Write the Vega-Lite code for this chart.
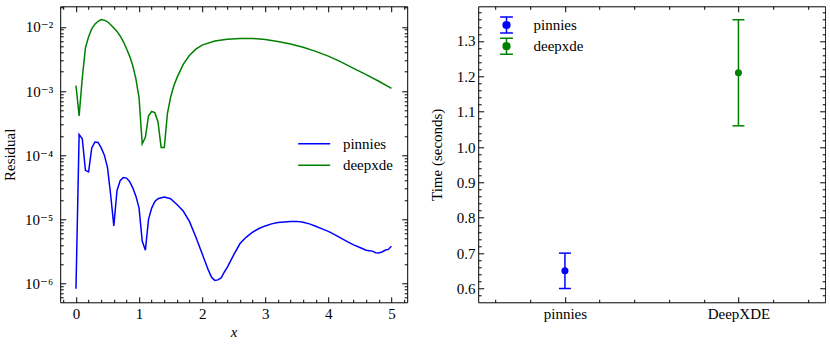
{
  "$schema": "https://vega.github.io/schema/vega-lite/v6.json",
  "background": "white",
  "padding": {"left": 1.2, "top": 5.3, "right": 0, "bottom": 0},
  "bounds": "flush",
  "spacing": 71,
  "resolve": {"scale": {"color": "independent"}, "legend": {"color": "independent"}},
  "config": {
    "view": {"stroke": "black", "strokeWidth": 1},
    "font": "Liberation Serif, Times New Roman, DejaVu Serif, serif",
    "axis": {
      "labelFont": "Liberation Serif, Times New Roman, DejaVu Serif, serif", "labelFontSize": 15, "labelColor": "black",
      "titleFont": "Liberation Serif, Times New Roman, DejaVu Serif, serif", "titleFontSize": 15, "titleFontWeight": "normal", "titleColor": "black",
      "grid": false, "domain": false, "tickColor": "black", "tickWidth": 1, "labelFlush": false, "labelOverlap": false
    },
    "legend": {"labelFont": "Liberation Serif, Times New Roman, DejaVu Serif, serif", "labelFontSize": 15, "labelColor": "black", "padding": 0}
  },
  "hconcat": [
    {
      "width": 347, "height": 296,
      "data": {"values": [
        {"method": "pinnies", "x": 0, "residual": 8.3e-7},
        {"method": "pinnies", "x": 0.05, "residual": 2.1e-4},
        {"method": "pinnies", "x": 0.1, "residual": 1.8e-4},
        {"method": "pinnies", "x": 0.15, "residual": 5.8e-5},
        {"method": "pinnies", "x": 0.2, "residual": 5.5e-5},
        {"method": "pinnies", "x": 0.25, "residual": 1.3e-4},
        {"method": "pinnies", "x": 0.3, "residual": 1.6e-4},
        {"method": "pinnies", "x": 0.35, "residual": 1.58e-4},
        {"method": "pinnies", "x": 0.4, "residual": 1.3e-4},
        {"method": "pinnies", "x": 0.45, "residual": 1.0e-4},
        {"method": "pinnies", "x": 0.5, "residual": 6.4e-5},
        {"method": "pinnies", "x": 0.55, "residual": 2.4e-5},
        {"method": "pinnies", "x": 0.6, "residual": 7.9e-6},
        {"method": "pinnies", "x": 0.65, "residual": 2.8e-5},
        {"method": "pinnies", "x": 0.7, "residual": 4.0e-5},
        {"method": "pinnies", "x": 0.75, "residual": 4.5e-5},
        {"method": "pinnies", "x": 0.8, "residual": 4.4e-5},
        {"method": "pinnies", "x": 0.85, "residual": 3.9e-5},
        {"method": "pinnies", "x": 0.9, "residual": 3.1e-5},
        {"method": "pinnies", "x": 0.95, "residual": 2.3e-5},
        {"method": "pinnies", "x": 1.0, "residual": 1.5e-5},
        {"method": "pinnies", "x": 1.05, "residual": 4.6e-6},
        {"method": "pinnies", "x": 1.1, "residual": 3.3e-6},
        {"method": "pinnies", "x": 1.15, "residual": 1.0e-5},
        {"method": "pinnies", "x": 1.2, "residual": 1.5e-5},
        {"method": "pinnies", "x": 1.25, "residual": 1.9e-5},
        {"method": "pinnies", "x": 1.3, "residual": 2.1e-5},
        {"method": "pinnies", "x": 1.4, "residual": 2.22e-5},
        {"method": "pinnies", "x": 1.5, "residual": 2.1e-5},
        {"method": "pinnies", "x": 1.6, "residual": 1.7e-5},
        {"method": "pinnies", "x": 1.7, "residual": 1.35e-5},
        {"method": "pinnies", "x": 1.8, "residual": 9.2e-6},
        {"method": "pinnies", "x": 1.9, "residual": 5.3e-6},
        {"method": "pinnies", "x": 2.0, "residual": 2.9e-6},
        {"method": "pinnies", "x": 2.1, "residual": 1.6e-6},
        {"method": "pinnies", "x": 2.15, "residual": 1.25e-6},
        {"method": "pinnies", "x": 2.2, "residual": 1.12e-6},
        {"method": "pinnies", "x": 2.25, "residual": 1.14e-6},
        {"method": "pinnies", "x": 2.3, "residual": 1.22e-6},
        {"method": "pinnies", "x": 2.35, "residual": 1.5e-6},
        {"method": "pinnies", "x": 2.4, "residual": 1.8e-6},
        {"method": "pinnies", "x": 2.5, "residual": 2.8e-6},
        {"method": "pinnies", "x": 2.6, "residual": 4.2e-6},
        {"method": "pinnies", "x": 2.7, "residual": 5.3e-6},
        {"method": "pinnies", "x": 2.8, "residual": 6.3e-6},
        {"method": "pinnies", "x": 2.9, "residual": 7.2e-6},
        {"method": "pinnies", "x": 3.0, "residual": 7.9e-6},
        {"method": "pinnies", "x": 3.1, "residual": 8.5e-6},
        {"method": "pinnies", "x": 3.2, "residual": 8.9e-6},
        {"method": "pinnies", "x": 3.3, "residual": 9.1e-6},
        {"method": "pinnies", "x": 3.4, "residual": 9.3e-6},
        {"method": "pinnies", "x": 3.5, "residual": 9.3e-6},
        {"method": "pinnies", "x": 3.6, "residual": 9.0e-6},
        {"method": "pinnies", "x": 3.7, "residual": 8.5e-6},
        {"method": "pinnies", "x": 3.8, "residual": 7.8e-6},
        {"method": "pinnies", "x": 3.9, "residual": 7.1e-6},
        {"method": "pinnies", "x": 4.0, "residual": 6.5e-6},
        {"method": "pinnies", "x": 4.1, "residual": 5.8e-6},
        {"method": "pinnies", "x": 4.2, "residual": 5.1e-6},
        {"method": "pinnies", "x": 4.3, "residual": 4.5e-6},
        {"method": "pinnies", "x": 4.4, "residual": 4.0e-6},
        {"method": "pinnies", "x": 4.5, "residual": 3.65e-6},
        {"method": "pinnies", "x": 4.6, "residual": 3.3e-6},
        {"method": "pinnies", "x": 4.65, "residual": 3.25e-6},
        {"method": "pinnies", "x": 4.7, "residual": 3.2e-6},
        {"method": "pinnies", "x": 4.75, "residual": 3.02e-6},
        {"method": "pinnies", "x": 4.8, "residual": 3.0e-6},
        {"method": "pinnies", "x": 4.85, "residual": 3.1e-6},
        {"method": "pinnies", "x": 4.9, "residual": 3.3e-6},
        {"method": "pinnies", "x": 4.95, "residual": 3.4e-6},
        {"method": "pinnies", "x": 5.0, "residual": 3.8e-6},
        {"method": "deepxde", "x": 0, "residual": 1.22e-3},
        {"method": "deepxde", "x": 0.05, "residual": 4.1e-4},
        {"method": "deepxde", "x": 0.1, "residual": 1.6e-3},
        {"method": "deepxde", "x": 0.15, "residual": 4.7e-3},
        {"method": "deepxde", "x": 0.2, "residual": 7.0e-3},
        {"method": "deepxde", "x": 0.25, "residual": 9.3e-3},
        {"method": "deepxde", "x": 0.3, "residual": 1.1e-2},
        {"method": "deepxde", "x": 0.35, "residual": 1.22e-2},
        {"method": "deepxde", "x": 0.4, "residual": 1.3e-2},
        {"method": "deepxde", "x": 0.45, "residual": 1.27e-2},
        {"method": "deepxde", "x": 0.5, "residual": 1.2e-2},
        {"method": "deepxde", "x": 0.55, "residual": 1.08e-2},
        {"method": "deepxde", "x": 0.6, "residual": 9.6e-3},
        {"method": "deepxde", "x": 0.65, "residual": 8.5e-3},
        {"method": "deepxde", "x": 0.7, "residual": 7.2e-3},
        {"method": "deepxde", "x": 0.75, "residual": 5.9e-3},
        {"method": "deepxde", "x": 0.8, "residual": 4.6e-3},
        {"method": "deepxde", "x": 0.85, "residual": 3.5e-3},
        {"method": "deepxde", "x": 0.9, "residual": 2.5e-3},
        {"method": "deepxde", "x": 0.95, "residual": 1.55e-3},
        {"method": "deepxde", "x": 1.0, "residual": 7.8e-4},
        {"method": "deepxde", "x": 1.05, "residual": 1.5e-4},
        {"method": "deepxde", "x": 1.1, "residual": 1.9e-4},
        {"method": "deepxde", "x": 1.15, "residual": 4.1e-4},
        {"method": "deepxde", "x": 1.2, "residual": 4.8e-4},
        {"method": "deepxde", "x": 1.25, "residual": 4.6e-4},
        {"method": "deepxde", "x": 1.3, "residual": 3.3e-4},
        {"method": "deepxde", "x": 1.35, "residual": 1.32e-4},
        {"method": "deepxde", "x": 1.4, "residual": 1.32e-4},
        {"method": "deepxde", "x": 1.45, "residual": 4.5e-4},
        {"method": "deepxde", "x": 1.5, "residual": 8.0e-4},
        {"method": "deepxde", "x": 1.55, "residual": 1.2e-3},
        {"method": "deepxde", "x": 1.6, "residual": 1.6e-3},
        {"method": "deepxde", "x": 1.7, "residual": 2.6e-3},
        {"method": "deepxde", "x": 1.8, "residual": 3.6e-3},
        {"method": "deepxde", "x": 1.9, "residual": 4.5e-3},
        {"method": "deepxde", "x": 2.0, "residual": 5.2e-3},
        {"method": "deepxde", "x": 2.2, "residual": 6.0e-3},
        {"method": "deepxde", "x": 2.4, "residual": 6.4e-3},
        {"method": "deepxde", "x": 2.6, "residual": 6.6e-3},
        {"method": "deepxde", "x": 2.8, "residual": 6.6e-3},
        {"method": "deepxde", "x": 3.0, "residual": 6.35e-3},
        {"method": "deepxde", "x": 3.2, "residual": 5.9e-3},
        {"method": "deepxde", "x": 3.4, "residual": 5.4e-3},
        {"method": "deepxde", "x": 3.6, "residual": 4.8e-3},
        {"method": "deepxde", "x": 3.8, "residual": 4.15e-3},
        {"method": "deepxde", "x": 4.0, "residual": 3.5e-3},
        {"method": "deepxde", "x": 4.2, "residual": 2.85e-3},
        {"method": "deepxde", "x": 4.4, "residual": 2.25e-3},
        {"method": "deepxde", "x": 4.6, "residual": 1.8e-3},
        {"method": "deepxde", "x": 4.8, "residual": 1.42e-3},
        {"method": "deepxde", "x": 5.0, "residual": 1.1e-3}
      ]},
      "layer": [
        {
          "mark": {"type": "line", "strokeWidth": 1.5, "clip": true},
          "encoding": {
            "x": {"field": "x", "type": "quantitative",
              "scale": {"domain": [-0.25, 5.25], "nice": false, "zero": false},
              "axis": {"orient": "bottom", "title": "x", "titleFontStyle": "italic", "titlePadding": 0,
                "values": [-0.2, 0, 0.2, 0.4, 0.6, 0.8, 1, 1.2, 1.4, 1.6, 1.8, 2, 2.2, 2.4, 2.6, 2.8, 3, 3.2, 3.4, 3.6, 3.8, 4, 4.2, 4.4, 4.6, 4.8, 5, 5.2],
                "labelExpr": "datum.value % 1 === 0 ? format(datum.value, 'd') : ''",
                "tickSize": {"condition": {"test": "datum.value % 1 === 0", "value": -5.5}, "value": -3},
                "labelPadding": 10}},
            "y": {"field": "residual", "type": "quantitative",
              "scale": {"type": "log", "domain": [5.1e-7, 0.0209], "nice": false},
              "axis": {"orient": "left", "title": "Residual", "titlePadding": 7,
                "values": [6e-7, 7e-7, 8e-7, 9e-7, 1e-6, 2e-6, 3e-6, 4e-6, 5e-6, 6e-6, 7e-6, 8e-6, 9e-6, 1e-5, 2e-5, 3e-5, 4e-5, 5e-5, 6e-5, 7e-5, 8e-5, 9e-5, 1e-4, 2e-4, 3e-4, 4e-4, 5e-4, 6e-4, 7e-4, 8e-4, 9e-4, 1e-3, 2e-3, 3e-3, 4e-3, 5e-3, 6e-3, 7e-3, 8e-3, 9e-3, 1e-2, 2e-2],
                "labelExpr": "abs(log(datum.value)/LN10 - round(log(datum.value)/LN10)) < 1e-6 ? ('10' + (round(log(datum.value)/LN10) === -2 ? '⁻²' : round(log(datum.value)/LN10) === -3 ? '⁻³' : round(log(datum.value)/LN10) === -4 ? '⁻⁴' : round(log(datum.value)/LN10) === -5 ? '⁻⁵' : '⁻⁶')) : ''",
                "labelFontSize": {"condition": {"test": "abs(log(datum.value)/LN10 - round(log(datum.value)/LN10)) < 1e-6", "value": 15}, "value": 1},
                "tickSize": {"condition": {"test": "abs(log(datum.value)/LN10 - round(log(datum.value)/LN10)) < 1e-6", "value": -5.5}, "value": -3},
                "labelPadding": 13}},
            "color": {"field": "method", "type": "nominal",
              "scale": {"domain": ["pinnies", "deepxde"], "range": ["#0000ff", "#008000"]},
              "legend": {"title": null, "orient": "none", "legendX": 245, "legendY": 128.4,
                "labelFont": "Liberation Serif, Times New Roman, DejaVu Serif, serif", "labelFontSize": 15,
                "symbolType": "M-2,0H2", "symbolSize": 256, "symbolStrokeWidth": 1.5,
                "labelOffset": 19.7, "rowPadding": 4.6}}
          }
        },
        {
          "mark": {"type": "point", "opacity": 0},
          "encoding": {
            "x": {"field": "x", "type": "quantitative",
              "axis": {"orient": "top", "title": null, "labels": false,
                "values": [-0.2, 0, 0.2, 0.4, 0.6, 0.8, 1, 1.2, 1.4, 1.6, 1.8, 2, 2.2, 2.4, 2.6, 2.8, 3, 3.2, 3.4, 3.6, 3.8, 4, 4.2, 4.4, 4.6, 4.8, 5, 5.2],
                "tickSize": {"condition": {"test": "datum.value % 1 === 0", "value": -5.5}, "value": -3}}},
            "y": {"field": "residual", "type": "quantitative",
              "axis": {"orient": "right", "title": null, "labels": false,
                "values": [6e-7, 7e-7, 8e-7, 9e-7, 1e-6, 2e-6, 3e-6, 4e-6, 5e-6, 6e-6, 7e-6, 8e-6, 9e-6, 1e-5, 2e-5, 3e-5, 4e-5, 5e-5, 6e-5, 7e-5, 8e-5, 9e-5, 1e-4, 2e-4, 3e-4, 4e-4, 5e-4, 6e-4, 7e-4, 8e-4, 9e-4, 1e-3, 2e-3, 3e-3, 4e-3, 5e-3, 6e-3, 7e-3, 8e-3, 9e-3, 1e-2, 2e-2],
                "tickSize": {"condition": {"test": "abs(log(datum.value)/LN10 - round(log(datum.value)/LN10)) < 1e-6", "value": -5.5}, "value": -3}}}
          }
        }
      ],
      "resolve": {"axis": {"x": "independent", "y": "independent"}}
    },
    {
      "width": 347, "height": 296,
      "data": {"values": [
        {"method": "pinnies", "idx": 0, "time": 0.65, "lo": 0.6, "hi": 0.7},
        {"method": "deepxde", "idx": 1, "time": 1.21, "lo": 1.06, "hi": 1.36}
      ]},
      "layer": [
        {
          "mark": {"type": "point", "filled": true, "size": 50, "opacity": 1},
          "encoding": {
            "x": {"field": "idx", "type": "quantitative",
              "scale": {"domain": [-0.5, 1.5], "nice": false, "zero": false},
              "axis": {"orient": "bottom", "title": null,
                "values": [-0.4, -0.2, 0, 0.2, 0.4, 0.6, 0.8, 1, 1.2, 1.4],
                "labelExpr": "datum.value === 0 ? 'pinnies' : datum.value === 1 ? 'DeepXDE' : ''",
                "tickSize": {"condition": {"test": "datum.value === 0 || datum.value === 1", "value": -5.5}, "value": -3},
                "labelPadding": 10}},
            "y": {"field": "time", "type": "quantitative",
              "scale": {"domain": [0.561, 1.398], "nice": false, "zero": false},
              "axis": {"orient": "left", "title": "Time (seconds)", "titlePadding": 12,
                "values": [0.58, 0.6, 0.62, 0.64, 0.66, 0.68, 0.7, 0.72, 0.74, 0.76, 0.78, 0.8, 0.82, 0.84, 0.86, 0.88, 0.9, 0.92, 0.94, 0.96, 0.98, 1.0, 1.02, 1.04, 1.06, 1.08, 1.1, 1.12, 1.14, 1.16, 1.18, 1.2, 1.22, 1.24, 1.26, 1.28, 1.3, 1.32, 1.34, 1.36, 1.38],
                "labelExpr": "abs(datum.value*10 - round(datum.value*10)) < 1e-6 ? format(datum.value, '.1f') : ''",
                "labelFontSize": {"condition": {"test": "abs(datum.value*10 - round(datum.value*10)) < 1e-6", "value": 15}, "value": 1},
                "tickSize": {"condition": {"test": "abs(datum.value*10 - round(datum.value*10)) < 1e-6", "value": -5.5}, "value": -3},
                "labelPadding": 8.6}},
            "color": {"field": "method", "type": "nominal",
              "scale": {"domain": ["pinnies", "deepxde"], "range": ["#0000ff", "#008000"]},
              "legend": {"title": null, "orient": "none", "legendX": 19.3, "legendY": 9.7,
                "labelFont": "Liberation Serif, Times New Roman, DejaVu Serif, serif", "labelFontSize": 15,
                "symbolType": "M-0.8,-1H0.8M0,-1V1M-0.8,1H0.8M0.42,0A0.42,0.42,0,1,1,-0.42,0A0.42,0.42,0,1,1,0.42,0Z",
                "symbolSize": 256, "symbolStrokeWidth": 1.5, "labelOffset": 18, "rowPadding": -0.8,
                "encode": {"symbols": {"update": {
                  "stroke": {"signal": "datum.value === 'pinnies' ? '#0000ff' : '#008000'"},
                  "fill": {"signal": "datum.value === 'pinnies' ? '#0000ff' : '#008000'"},
                  "strokeWidth": {"value": 1.5},
                  "opacity": {"value": 1}}}}}}
          }
        },
        {
          "mark": {"type": "rule", "strokeWidth": 1.5},
          "encoding": {
            "x": {"field": "idx", "type": "quantitative", "axis": null},
            "y": {"field": "lo", "type": "quantitative", "axis": null},
            "y2": {"field": "hi"},
            "color": {"field": "method", "type": "nominal"}
          }
        },
        {
          "mark": {"type": "tick", "orient": "horizontal", "size": 12, "thickness": 1.5, "opacity": 1},
          "encoding": {
            "x": {"field": "idx", "type": "quantitative", "axis": null},
            "y": {"field": "lo", "type": "quantitative", "axis": null},
            "color": {"field": "method", "type": "nominal"}
          }
        },
        {
          "mark": {"type": "tick", "orient": "horizontal", "size": 12, "thickness": 1.5, "opacity": 1},
          "encoding": {
            "x": {"field": "idx", "type": "quantitative", "axis": null},
            "y": {"field": "hi", "type": "quantitative", "axis": null},
            "color": {"field": "method", "type": "nominal"}
          }
        },
        {
          "mark": {"type": "point", "opacity": 0},
          "encoding": {
            "x": {"field": "idx", "type": "quantitative",
              "axis": {"orient": "top", "title": null, "labels": false,
                "values": [-0.4, -0.2, 0, 0.2, 0.4, 0.6, 0.8, 1, 1.2, 1.4],
                "tickSize": {"condition": {"test": "datum.value === 0 || datum.value === 1", "value": -5.5}, "value": -3}}},
            "y": {"field": "time", "type": "quantitative",
              "axis": {"orient": "right", "title": null, "labels": false,
                "values": [0.58, 0.6, 0.62, 0.64, 0.66, 0.68, 0.7, 0.72, 0.74, 0.76, 0.78, 0.8, 0.82, 0.84, 0.86, 0.88, 0.9, 0.92, 0.94, 0.96, 0.98, 1.0, 1.02, 1.04, 1.06, 1.08, 1.1, 1.12, 1.14, 1.16, 1.18, 1.2, 1.22, 1.24, 1.26, 1.28, 1.3, 1.32, 1.34, 1.36, 1.38],
                "tickSize": {"condition": {"test": "abs(datum.value*10 - round(datum.value*10)) < 1e-6", "value": -5.5}, "value": -3}}}
          }
        }
      ],
      "resolve": {"axis": {"x": "independent", "y": "independent"}}
    }
  ]
}
